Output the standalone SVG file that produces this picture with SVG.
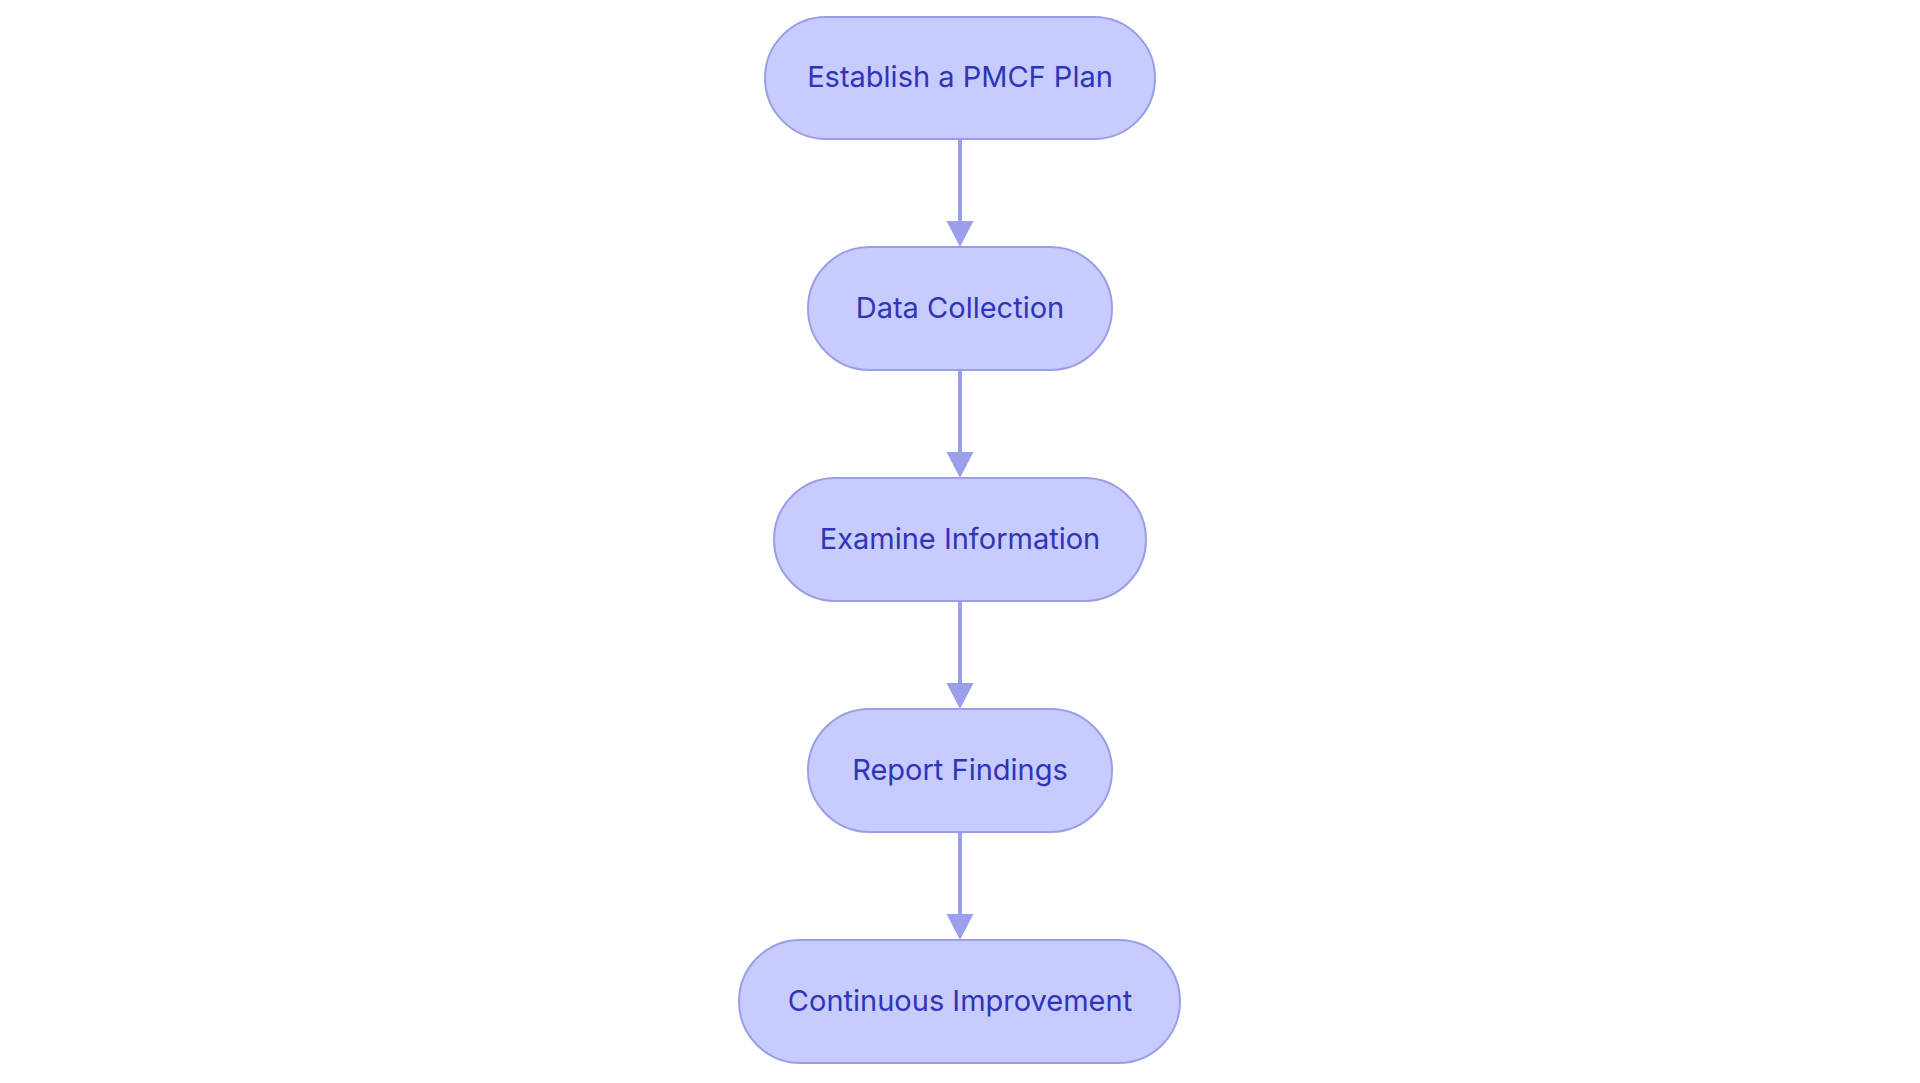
<svg xmlns="http://www.w3.org/2000/svg" width="1920" height="1083" viewBox="0 0 1920 1083">
<defs>
<style>
.node rect{fill:#c8cbfe;stroke:#9a9ee6;stroke-width:2}
.node text{font-family:Inter,"Noto Sans","Liberation Sans",sans-serif;font-size:29px;fill:#2e35b6;text-anchor:middle}
.edge{stroke:#9ca0ec;stroke-width:4;fill:none}
</style>
<marker id="arr" markerWidth="27" markerHeight="26" refX="13.5" refY="26" orient="auto" markerUnits="userSpaceOnUse" viewBox="0 0 27 26">
<path d="M0,0 L27,0 L13.5,26 Z" fill="#9ca0ec"/>
</marker>
</defs>
<rect width="1920" height="1083" fill="#ffffff"/>
<g id="connectors">
<path class="edge" d="M960,139 L960,221" />
<path d="M946.5,221 L973.5,221 L960,247 Z" fill="#9ca0ec"/>
<path class="edge" d="M960,370 L960,452" />
<path d="M946.5,452 L973.5,452 L960,478 Z" fill="#9ca0ec"/>
<path class="edge" d="M960,601 L960,683" />
<path d="M946.5,683 L973.5,683 L960,709 Z" fill="#9ca0ec"/>
<path class="edge" d="M960,832 L960,914" />
<path d="M946.5,914 L973.5,914 L960,940 Z" fill="#9ca0ec"/>
</g>
<g id="node1" class="node">
<rect x="765" y="17" width="390" height="122" rx="61" ry="61"/>
<text x="960" y="87">Establish a PMCF Plan</text>
</g>
<g id="node2" class="node">
<rect x="808" y="247" width="304" height="123" rx="61.5" ry="61.5"/>
<text x="960" y="318">Data Collection</text>
</g>
<g id="node3" class="node">
<rect x="774" y="478" width="372" height="123" rx="61.5" ry="61.5"/>
<text x="960" y="549">Examine Information</text>
</g>
<g id="node4" class="node">
<rect x="808" y="709" width="304" height="123" rx="61.5" ry="61.5"/>
<text x="960" y="780">Report Findings</text>
</g>
<g id="node5" class="node">
<rect x="739" y="940" width="441" height="123" rx="61.5" ry="61.5"/>
<text x="960" y="1011">Continuous Improvement</text>
</g>
</svg>
